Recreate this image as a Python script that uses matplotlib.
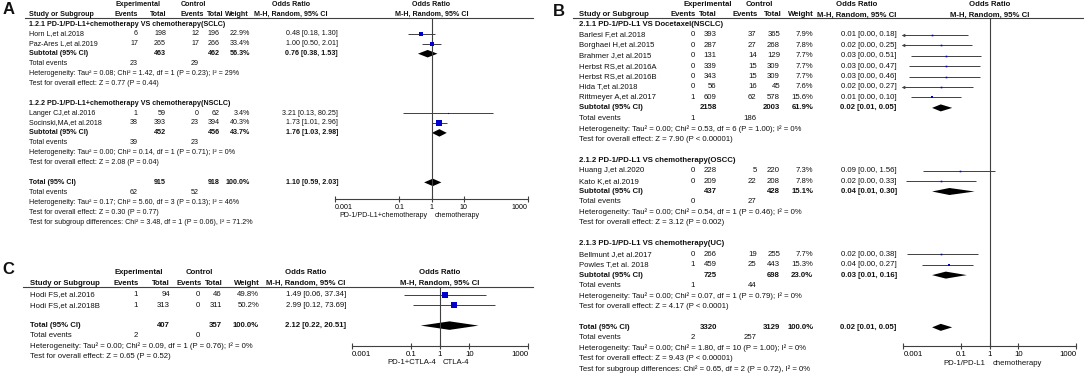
# Forest plots A, B, C (RevMan style) rebuilt with matplotlib
import matplotlib
matplotlib.use("Agg")
import matplotlib.pyplot as plt
from matplotlib.lines import Line2D
from matplotlib.ticker import NullLocator

W, H = 1084, 373
plt.rcParams['font.family'] = ['Liberation Sans', 'DejaVu Sans']

# ---------------- panel A data ----------------
a_titles = ["1.2.1 PD-1/PD-L1+chemotherapy VS chemotherapy(SCLC)",
            "1.2.2 PD-1/PD-L1+chemotherapy VS chemotherapy(NSCLC)"]
a_study = ["Horn L,et al.2018", "Paz-Ares L,et al.2019",
           "Langer CJ,et al.2016", "Socinski,MA,et al.2018"]
a_group = [0, 0, 1, 1]
a_exp_events = [6, 17, 1, 38]
a_exp_total = [198, 265, 59, 393]
a_ctl_events = [12, 17, 0, 23]
a_ctl_total = [196, 266, 62, 394]
a_weight = [22.9, 33.4, 3.4, 40.3]
a_or = [0.48, 1.00, 3.21, 1.73]
a_lo = [0.18, 0.50, 0.13, 1.01]
a_hi = [1.30, 2.01, 80.25, 2.96]
a_sub_exp_total = [463, 452]
a_sub_ctl_total = [462, 456]
a_sub_weight = [56.3, 43.7]
a_sub_or = [0.76, 1.76]
a_sub_lo = [0.38, 1.03]
a_sub_hi = [1.53, 2.98]
a_sub_exp_events = [23, 39]
a_sub_ctl_events = [29, 23]
a_sub_het = ["Heterogeneity: Tau² = 0.08; Chi² = 1.42, df = 1 (P = 0.23); I² = 29%",
             "Heterogeneity: Tau² = 0.00; Chi² = 0.14, df = 1 (P = 0.71); I² = 0%"]
a_sub_z = ["Test for overall effect: Z = 0.77 (P = 0.44)",
           "Test for overall effect: Z = 2.08 (P = 0.04)"]
a_total = [915, 918, 100.0, 1.10, 0.59, 2.03]
a_total_events = [62, 52]
a_het = "Heterogeneity: Tau² = 0.17; Chi² = 5.60, df = 3 (P = 0.13); I² = 46%"
a_z = "Test for overall effect: Z = 0.30 (P = 0.77)"
a_subgroup = "Test for subgroup differences: Chi² = 3.48, df = 1 (P = 0.06), I² = 71.2%"
a_favours = ["PD-1/PD-L1+chemotherapy", "chemotherapy"]

# ---------------- panel B data ----------------
b_titles = ["2.1.1 PD-1/PD-L1 VS Docetaxel(NSCLC)",
            "2.1.2 PD-1/PD-L1 VS chemotherapy(OSCC)",
            "2.1.3 PD-1/PD-L1 VS chemotherapy(UC)"]
b_study = ["Barlesi F,et al.2018", "Borghaei H,et al.2015", "Brahmer J,et al.2015",
           "Herbst RS,et al.2016A", "Herbst RS,et al.2016B", "Hida T,et al.2018",
           "Rittmeyer A,et al.2017", "Huang J,et al.2020", "Kato K,et al.2019",
           "Bellmunt J,et al.2017", "Powles T,et al. 2018"]
b_group = [0, 0, 0, 0, 0, 0, 0, 1, 1, 2, 2]
b_exp_events = [0, 0, 0, 0, 0, 0, 1, 0, 0, 0, 1]
b_exp_total = [393, 287, 131, 339, 343, 56, 609, 228, 209, 266, 459]
b_ctl_events = [37, 27, 14, 15, 15, 16, 62, 5, 22, 19, 25]
b_ctl_total = [365, 268, 129, 309, 309, 45, 578, 220, 208, 255, 443]
b_weight = [7.9, 7.8, 7.7, 7.7, 7.7, 7.6, 15.6, 7.3, 7.8, 7.7, 15.3]
b_or = [0.01, 0.02, 0.03, 0.03, 0.03, 0.02, 0.01, 0.09, 0.02, 0.02, 0.04]
b_lo = [0.0004, 0.0006, 0.0018, 0.0016, 0.0016, 0.0007, 0.0019, 0.0047, 0.0012, 0.0013, 0.0046]
b_hi = [0.18, 0.25, 0.51, 0.47, 0.46, 0.27, 0.10, 1.56, 0.33, 0.38, 0.27]
b_sub_exp_total = [2158, 437, 725]
b_sub_ctl_total = [2003, 428, 698]
b_sub_weight = [61.9, 15.1, 23.0]
b_sub_or = [0.02, 0.04, 0.03]
b_sub_lo = [0.01, 0.01, 0.01]
b_sub_hi = [0.05, 0.30, 0.16]
b_sub_exp_events = [1, 0, 1]
b_sub_ctl_events = [186, 27, 44]
b_sub_het = ["Heterogeneity: Tau² = 0.00; Chi² = 0.53, df = 6 (P = 1.00); I² = 0%",
             "Heterogeneity: Tau² = 0.00; Chi² = 0.54, df = 1 (P = 0.46); I² = 0%",
             "Heterogeneity: Tau² = 0.00; Chi² = 0.07, df = 1 (P = 0.79); I² = 0%"]
b_sub_z = ["Test for overall effect: Z = 7.90 (P < 0.00001)",
           "Test for overall effect: Z = 3.12 (P = 0.002)",
           "Test for overall effect: Z = 4.17 (P < 0.0001)"]
b_total = [3320, 3129, 100.0, 0.02, 0.01, 0.05]
b_total_events = [2, 257]
b_het = "Heterogeneity: Tau² = 0.00; Chi² = 1.80, df = 10 (P = 1.00); I² = 0%"
b_z = "Test for overall effect: Z = 9.43 (P < 0.00001)"
b_subgroup = "Test for subgroup differences: Chi² = 0.65, df = 2 (P = 0.72), I² = 0%"
b_favours = ["PD-1/PD-L1", "chemotherapy"]

# ---------------- panel C data ----------------
c_study = ["Hodi FS,et al.2016", "Hodi FS,et al.2018B"]
c_group = [0, 0]
c_exp_events = [1, 1]
c_exp_total = [94, 313]
c_ctl_events = [0, 0]
c_ctl_total = [46, 311]
c_weight = [49.8, 50.2]
c_or = [1.49, 2.99]
c_lo = [0.06, 0.12]
c_hi = [37.34, 73.69]
c_total = [407, 357, 100.0, 2.12, 0.22, 20.51]
c_total_events = [2, 0]
c_het = "Heterogeneity: Tau² = 0.00; Chi² = 0.09, df = 1 (P = 0.76); I² = 0%"
c_z = "Test for overall effect: Z = 0.65 (P = 0.52)"
c_favours = ["PD-1+CTLA-4", "CTLA-4"]

ticks = [0.001, 0.1, 1, 10, 1000]
tick_labels = ["0.001", "0.1", "1", "10", "1000"]

BLUE = '#0000cc'
GREY = '#404040'
XMIN, XMAX = 0.001, 1000

fig = plt.figure(figsize=(W / 100, H / 100), dpi=100)


def txt(x, y, s, ha='left', size=5.0, bold=False):
    fig.text(x / W, 1 - y / H, s, ha=ha, va='center', fontsize=size,
             fontweight='bold' if bold else 'normal', color='#111111')


def hline(x0, x1, y):
    fig.add_artist(Line2D([x0 / W, x1 / W], [1 - y / H, 1 - y / H],
                          color=GREY, lw=0.8, transform=fig.transFigure))


def forest_axes(x0, x1, ytop, ybot, fs, favours, fav_y):
    ax = fig.add_axes([x0 / W, 1 - ybot / H, (x1 - x0) / W, (ybot - ytop) / H])
    ax.set_xscale('log')
    ax.set_xlim(XMIN, XMAX)
    ax.set_ylim(ybot, ytop)
    ax.patch.set_alpha(0)
    for s in ['top', 'left', 'right']:
        ax.spines[s].set_visible(False)
    ax.spines['bottom'].set_color(GREY)
    ax.spines['bottom'].set_linewidth(0.8)
    ax.set_xticks(ticks)
    ax.set_xticklabels(tick_labels)
    ax.xaxis.set_minor_locator(NullLocator())
    ax.tick_params(axis='x', direction='inout', length=5, width=0.8,
                   labelsize=fs, pad=1, color=GREY)
    labs = ax.get_xticklabels()
    labs[0].set_horizontalalignment('left')
    labs[-1].set_horizontalalignment('right')
    ax.set_yticks([])
    ax.axvline(1, color=GREY, lw=0.8)
    # favours labels under the axis
    xc = x0 + (x1 - x0) / 2
    txt(xc - 4, fav_y, favours[0], ha='right', size=fs)
    txt(xc + 3, fav_y, favours[1], ha='left', size=fs)
    return ax


def headers(cols, hx, y1, y2, xc, fs):
    txt(hx['exp'], y1, "Experimental", ha='center', size=fs, bold=True)
    txt(hx['ctl'], y1, "Control", ha='center', size=fs, bold=True)
    txt(hx['or'], y1, "Odds Ratio", ha='center', size=fs, bold=True)
    txt(xc, y1, "Odds Ratio", ha='center', size=fs, bold=True)
    txt(cols['study'], y2, "Study or Subgroup", size=fs, bold=True)
    txt(hx['ev_e'], y2, "Events", ha='right', size=fs, bold=True)
    txt(hx['tot_e'], y2, "Total", ha='right', size=fs, bold=True)
    txt(hx['ev_c'], y2, "Events", ha='right', size=fs, bold=True)
    txt(hx['tot_c'], y2, "Total", ha='right', size=fs, bold=True)
    txt(hx['wt'], y2, "Weight", ha='right', size=fs, bold=True)
    txt(hx['or'], y2, "M-H, Random, 95% CI", ha='center', size=fs, bold=True)
    txt(xc, y2, "M-H, Random, 95% CI", ha='center', size=fs, bold=True)


def row(cols, y, fs, name, ee, te, ec, tc, w, o, lo, hi, bold=False):
    txt(cols['study'], y, name, size=fs, bold=bold)
    for key, val in (('ev_e', ee), ('tot_e', te), ('ev_c', ec), ('tot_c', tc)):
        if val is not None:
            txt(cols[key], y, str(val), ha='right', size=fs, bold=bold)
    if w is not None:
        txt(cols['wt'], y, f"{w:.1f}%", ha='right', size=fs, bold=bold)
    if o is not None:
        txt(cols['or'], y, f"{o:.2f} [{lo:.2f}, {hi:.2f}]", ha='right', size=fs, bold=bold)


def square(ax, y, o, lo, hi, w):
    ax.plot([max(lo, XMIN), hi], [y, y], color=GREY, lw=0.7, solid_capstyle='butt')
    if lo < XMIN:
        ax.plot(XMIN, y, marker='<', ms=2.6, color=GREY, mew=0, clip_on=False)
    ax.plot(o, y, marker='s', ms=(0.12 * w + 0.7) * 0.72, color=BLUE, mew=0)


def diamond(ax, y, o, lo, hi, h):
    ax.fill([lo, o, hi, o], [y, y - h / 2, y, y + h / 2], color='black', lw=0)


def panel(ax, cols, y0, step, fs, dh, titles, study, group, ee, te, ec, tc, wt, orr, lo, hi,
          sub, total, total_events, het, z, subgroup):
    y = y0
    n_groups = len(titles) if titles else 1
    for g in range(n_groups):
        if titles:
            txt(cols['study'], y, titles[g], size=fs, bold=True)
            y += step
        for i in range(len(study)):
            if group[i] != g:
                continue
            row(cols, y, fs, study[i], ee[i], te[i], ec[i], tc[i], wt[i], orr[i], lo[i], hi[i])
            square(ax, y, orr[i], lo[i], hi[i], wt[i])
            y += step
        if sub:
            s_te, s_tc, s_wt, s_or, s_lo, s_hi, s_ee, s_ec, s_het, s_z = [v[g] for v in sub]
            row(cols, y, fs, "Subtotal (95% CI)", None, s_te, None, s_tc, s_wt, s_or, s_lo, s_hi, bold=True)
            diamond(ax, y, s_or, s_lo, s_hi, dh)
            y += step
            row(cols, y, fs, "Total events", s_ee, None, s_ec, None, None, None, None, None)
            y += step
            txt(cols['study'], y, s_het, size=fs)
            y += step
            txt(cols['study'], y, s_z, size=fs)
            y += step
        y += step
    t_te, t_tc, t_wt, t_or, t_lo, t_hi = total
    row(cols, y, fs, "Total (95% CI)", None, t_te, None, t_tc, t_wt, t_or, t_lo, t_hi, bold=True)
    diamond(ax, y, t_or, t_lo, t_hi, dh)
    y += step
    row(cols, y, fs, "Total events", total_events[0], None, total_events[1], None,
        None, None, None, None)
    y += step
    txt(cols['study'], y, het, size=fs)
    y += step
    txt(cols['study'], y, z, size=fs)
    y += step
    if subgroup:
        txt(cols['study'], y, subgroup, size=fs)


# ---------------- panel A ----------------
fsA = 5.15
colsA = dict(study=29, ev_e=138, tot_e=166, ev_c=199, tot_c=219.5, wt=250, **{'or': 338})
hxA = dict(exp=138, ctl=193, ev_e=138, tot_e=166, ev_c=204, tot_c=223, wt=249, **{'or': 291})
txt(3, 10, "A", size=12, bold=True)
axA = forest_axes(335, 528, 17.5, 199, fsA, a_favours, 215.5)
headers(colsA, hxA, 5, 14, 431.5, fsA)
hline(25, 533, 17.5)
panel(axA, colsA, 24, 9.9, fsA, 7.5, a_titles, a_study, a_group, a_exp_events, a_exp_total,
      a_ctl_events, a_ctl_total, a_weight, a_or, a_lo, a_hi,
      [a_sub_exp_total, a_sub_ctl_total, a_sub_weight, a_sub_or, a_sub_lo, a_sub_hi,
       a_sub_exp_events, a_sub_ctl_events, a_sub_het, a_sub_z],
      a_total, a_total_events, a_het, a_z, a_subgroup)

# ---------------- panel B ----------------
fsB = 5.6
colsB = dict(study=579, ev_e=695, tot_e=716.7, ev_c=756.7, tot_c=780, wt=813.3, **{'or': 896.7})
hxB = dict(exp=708, ctl=759, ev_e=695.6, tot_e=716.7, ev_c=758, tot_c=781.7, wt=814, **{'or': 857})
txt(553, 11, "B", size=12, bold=True)
axB = forest_axes(903.3, 1076, 17.7, 345.7, fsB, b_favours, 363.3)
headers(colsB, hxB, 5, 15, 989.7, fsB)
hline(573, 1084, 17.7)
panel(axB, colsB, 24.3, 10.45, fsB, 7.0, b_titles, b_study, b_group, b_exp_events, b_exp_total,
      b_ctl_events, b_ctl_total, b_weight, b_or, b_lo, b_hi,
      [b_sub_exp_total, b_sub_ctl_total, b_sub_weight, b_sub_or, b_sub_lo, b_sub_hi,
       b_sub_exp_events, b_sub_ctl_events, b_sub_het, b_sub_z],
      b_total, b_total_events, b_het, b_z, b_subgroup)

# ---------------- panel C ----------------
fsC = 5.6
colsC = dict(study=30, ev_e=138, tot_e=170, ev_c=200, tot_c=221.7, wt=259, **{'or': 346})
hxC = dict(exp=138.8, ctl=199, ev_e=138.3, tot_e=170, ev_c=201.7, tot_c=222.7, wt=259.3, **{'or': 306})
txt(2, 269, "C", size=12, bold=True)
axC = forest_axes(352, 528, 287, 346, fsC, c_favours, 362.7)
headers(colsC, hxC, 273, 283.7, 440, fsC)
hline(23, 533, 287)
panel(axC, colsC, 295, 10.2, fsC, 8.5, None, c_study, c_group, c_exp_events, c_exp_total,
      c_ctl_events, c_ctl_total, c_weight, c_or, c_lo, c_hi,
      None, c_total, c_total_events, c_het, c_z, None)

fig.savefig("out.png", dpi=100)
